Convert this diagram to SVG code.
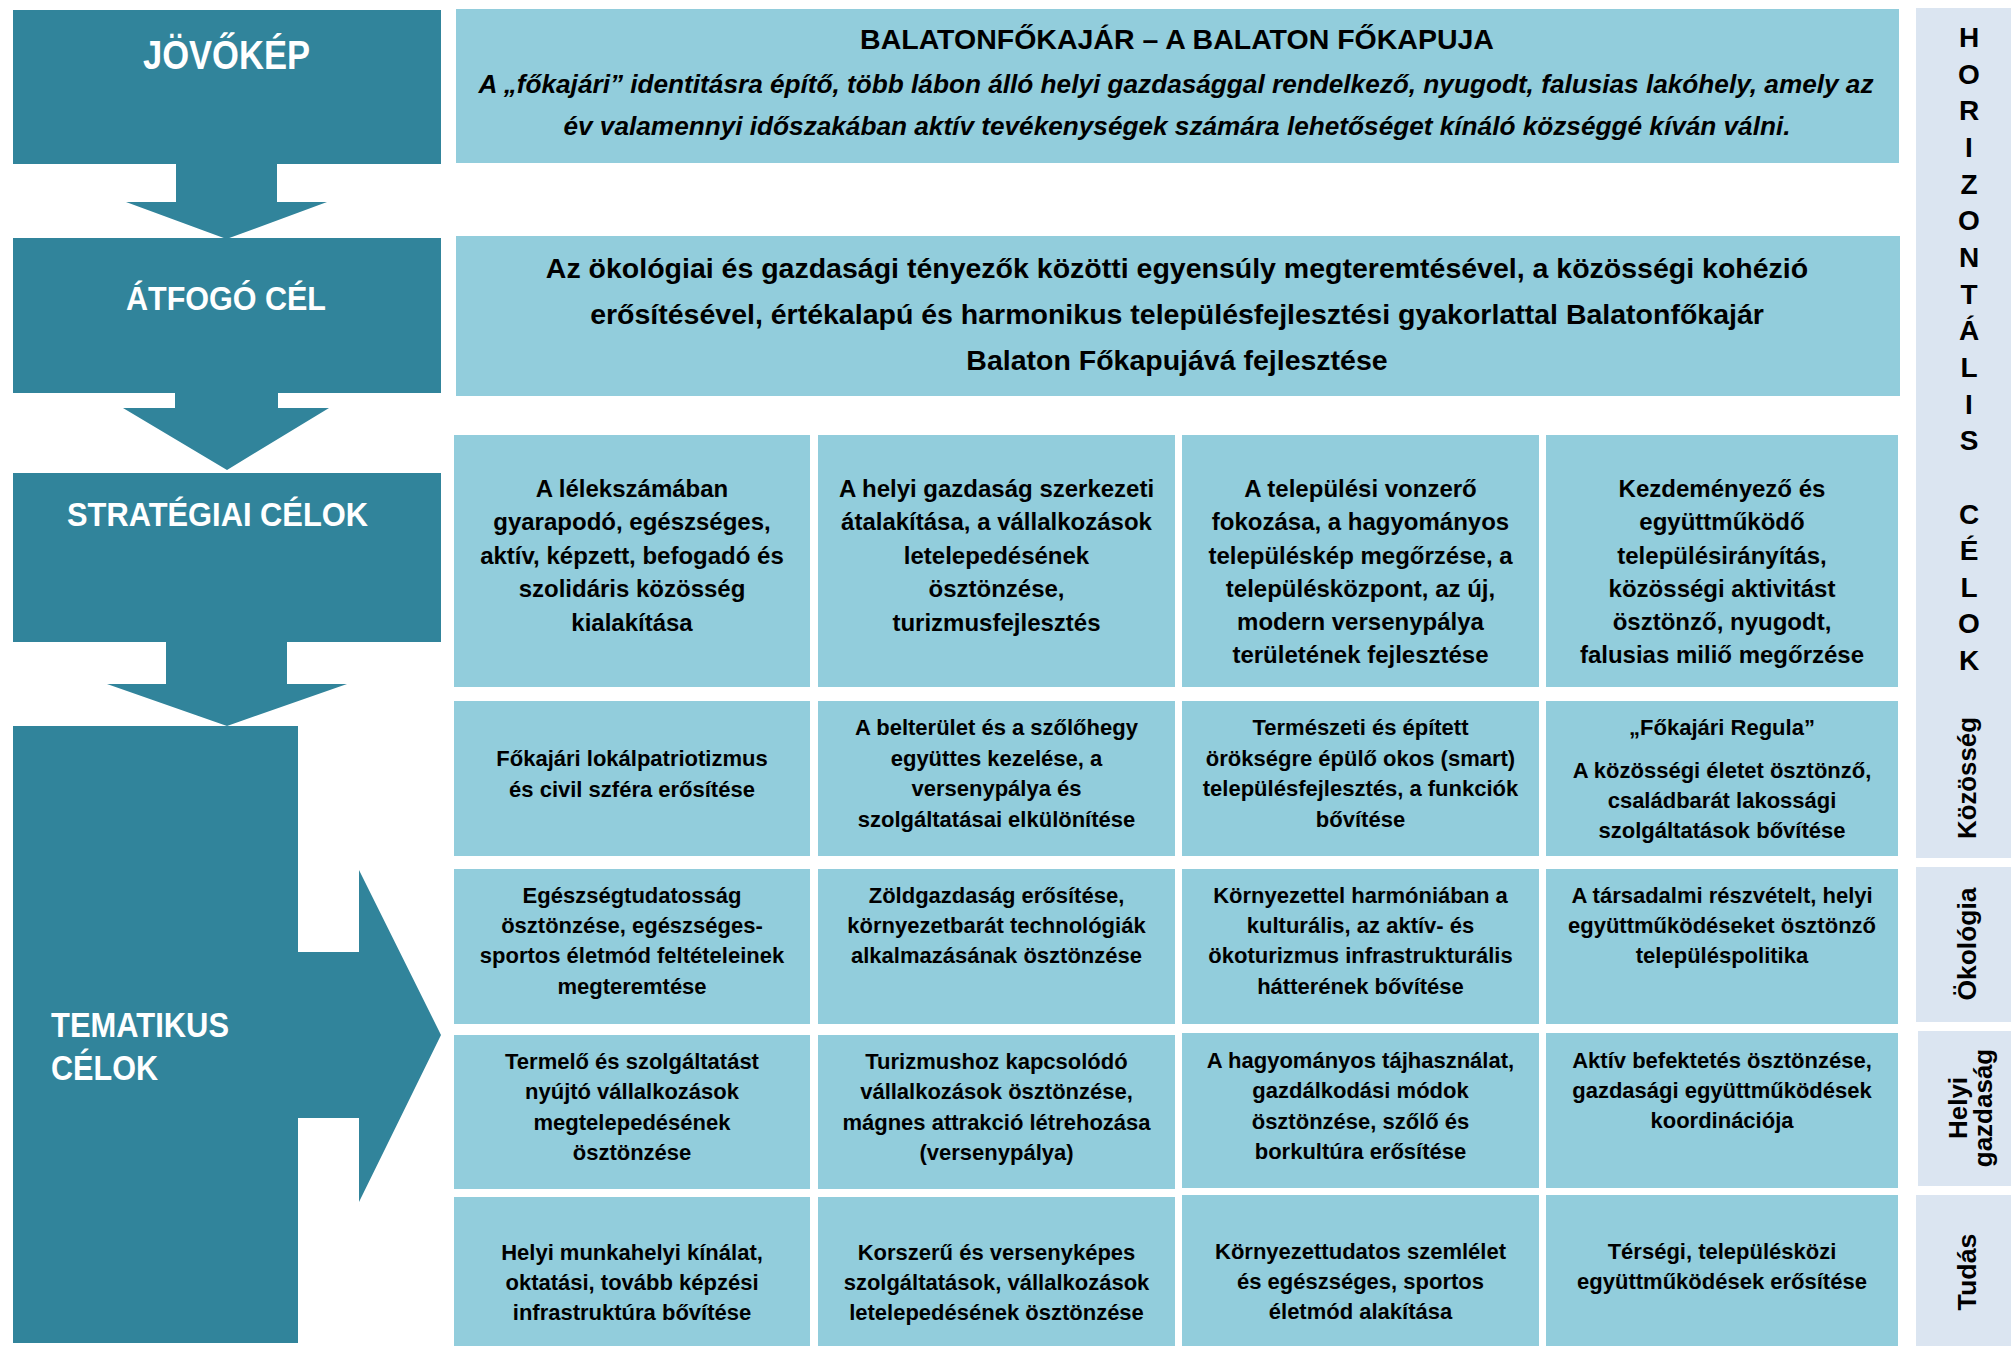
<svg xmlns="http://www.w3.org/2000/svg" width="2011" height="1346" viewBox="0 0 2011 1346">
<defs>
<style>
.dark{fill:#31849B}
.light{fill:#92CDDC}
.bar{fill:#DBE5F1}
.lbl{font-family:"Liberation Sans",Arial,sans-serif;font-weight:bold;fill:#FFFFFF}
.hd{font-family:"Liberation Sans",Arial,sans-serif;font-weight:bold;fill:#000;text-anchor:middle;font-size:28.5px}
.it{font-family:"Liberation Sans",Arial,sans-serif;font-weight:bold;font-style:italic;fill:#000;text-anchor:middle;font-size:26.2px}
.t24{font-family:"Liberation Sans",Arial,sans-serif;font-weight:bold;fill:#000;text-anchor:middle;font-size:24px}
.t22{font-family:"Liberation Sans",Arial,sans-serif;font-weight:bold;fill:#000;text-anchor:middle;font-size:22px}
.vl{font-family:"Liberation Sans",Arial,sans-serif;font-weight:bold;fill:#000;text-anchor:middle;font-size:28px}
.rl{font-family:"Liberation Sans",Arial,sans-serif;font-weight:bold;fill:#000;text-anchor:middle;font-size:26px}
</style>
</defs>
<rect width="2011" height="1346" fill="#FFFFFF"/>

<g id="connectors">
<polygon class="dark" points="176,163 277,163 277,202 327,202 226.5,239 126,202 176,202"/>
<polygon class="dark" points="175,392 278,392 278,408 329,408 227,470 123,408 175,408"/>
<polygon class="dark" points="166,641 287,641 287,684 347,684 227,726 107,684 166,684"/>
<polygon class="dark" points="297,952 359,952 359,870 441,1035 359,1202 359,1118 297,1118"/>
</g>

<g id="jovokep">
<rect class="dark" x="13" y="10" width="428" height="154"/>
<text class="lbl" x="226.5" y="69" font-size="41" text-anchor="middle" textLength="167" lengthAdjust="spacingAndGlyphs">JÖVŐKÉP</text>
</g>
<g id="atfogo-cel">
<rect class="dark" x="13" y="238" width="428" height="155"/>
<text class="lbl" x="226" y="310" font-size="33.5" text-anchor="middle" textLength="200" lengthAdjust="spacingAndGlyphs">ÁTFOGÓ CÉL</text>
</g>
<g id="strategiai-celok">
<rect class="dark" x="13" y="473" width="428" height="169"/>
<text class="lbl" x="67" y="526" font-size="33.5" textLength="301" lengthAdjust="spacingAndGlyphs">STRATÉGIAI CÉLOK</text>
</g>
<g id="tematikus-celok">
<rect class="dark" x="13" y="726" width="285" height="617"/>
<text class="lbl" x="51" y="1037" font-size="35" textLength="178" lengthAdjust="spacingAndGlyphs">TEMATIKUS</text>
<text class="lbl" x="51" y="1080" font-size="35" textLength="107" lengthAdjust="spacingAndGlyphs">CÉLOK</text>
</g>

<g id="jovokep-text">
<rect class="light" x="456" y="9" width="1443" height="154"/>
<text class="hd" x="1177" y="49">BALATONFŐKAJÁR – A BALATON FŐKAPUJA</text>
<text class="it" x="1176" y="93">A „főkajári” identitásra építő, több lábon álló helyi gazdasággal rendelkező, nyugodt, falusias lakóhely, amely az</text>
<text class="it" x="1177" y="135">év valamennyi időszakában aktív tevékenységek számára lehetőséget kínáló községgé kíván válni.</text>
</g>
<g id="atfogo-text">
<rect class="light" x="456" y="236" width="1444" height="160"/>
<text class="hd" x="1177" y="278">Az ökológiai és gazdasági tényezők közötti egyensúly megteremtésével, a közösségi kohézió</text>
<text class="hd" x="1177" y="324">erősítésével, értékalapú és harmonikus településfejlesztési gyakorlattal Balatonfőkajár</text>
<text class="hd" x="1177" y="370">Balaton Főkapujává fejlesztése</text>
</g>

<g id="s1">
<rect class="light" x="454" y="435" width="356" height="252"/>
<text class="t24"><tspan x="632" y="497">A lélekszámában</tspan><tspan x="632" y="530">gyarapodó, egészséges,</tspan><tspan x="632" y="564">aktív, képzett, befogadó és</tspan><tspan x="632" y="597">szolidáris közösség</tspan><tspan x="632" y="631">kialakítása</tspan></text>
</g>
<g id="s2">
<rect class="light" x="818" y="435" width="357" height="252"/>
<text class="t24"><tspan x="996.5" y="497">A helyi gazdaság szerkezeti</tspan><tspan x="996.5" y="530">átalakítása, a vállalkozások</tspan><tspan x="996.5" y="564">letelepedésének</tspan><tspan x="996.5" y="597">ösztönzése,</tspan><tspan x="996.5" y="631">turizmusfejlesztés</tspan></text>
</g>
<g id="s3">
<rect class="light" x="1182" y="435" width="357" height="252"/>
<text class="t24"><tspan x="1360.5" y="497">A települési vonzerő</tspan><tspan x="1360.5" y="530">fokozása, a hagyományos</tspan><tspan x="1360.5" y="564">településkép megőrzése, a</tspan><tspan x="1360.5" y="597">településközpont, az új,</tspan><tspan x="1360.5" y="630">modern versenypálya</tspan><tspan x="1360.5" y="663">területének fejlesztése</tspan></text>
</g>
<g id="s4">
<rect class="light" x="1546" y="435" width="352" height="252"/>
<text class="t24"><tspan x="1722" y="497">Kezdeményező és</tspan><tspan x="1722" y="530">együttműködő</tspan><tspan x="1722" y="564">településirányítás,</tspan><tspan x="1722" y="597">közösségi aktivitást</tspan><tspan x="1722" y="630">ösztönző, nyugodt,</tspan><tspan x="1722" y="663">falusias miliő megőrzése</tspan></text>
</g>

<g id="k1">
<rect class="light" x="454" y="701" width="356" height="155"/>
<text class="t22"><tspan x="632" y="766">Főkajári lokálpatriotizmus</tspan><tspan x="632" y="797">és civil szféra erősítése</tspan></text>
</g>
<g id="k2">
<rect class="light" x="818" y="701" width="357" height="155"/>
<text class="t22"><tspan x="996.5" y="735">A belterület és a szőlőhegy</tspan><tspan x="996.5" y="766">együttes kezelése, a</tspan><tspan x="996.5" y="796">versenypálya és</tspan><tspan x="996.5" y="827">szolgáltatásai elkülönítése</tspan></text>
</g>
<g id="k3">
<rect class="light" x="1182" y="701" width="357" height="155"/>
<text class="t22"><tspan x="1360.5" y="735">Természeti és épített</tspan><tspan x="1360.5" y="766">örökségre épülő okos (smart)</tspan><tspan x="1360.5" y="796">településfejlesztés, a funkciók</tspan><tspan x="1360.5" y="827">bővítése</tspan></text>
</g>
<g id="k4">
<rect class="light" x="1546" y="701" width="352" height="155"/>
<text class="t22"><tspan x="1722" y="735">„Főkajári Regula”</tspan><tspan x="1722" y="778">A közösségi életet ösztönző,</tspan><tspan x="1722" y="808">családbarát lakossági</tspan><tspan x="1722" y="838">szolgáltatások bővítése</tspan></text>
</g>

<g id="o1">
<rect class="light" x="454" y="869" width="356" height="155"/>
<text class="t22"><tspan x="632" y="903">Egészségtudatosság</tspan><tspan x="632" y="933">ösztönzése, egészséges-</tspan><tspan x="632" y="963">sportos életmód feltételeinek</tspan><tspan x="632" y="994">megteremtése</tspan></text>
</g>
<g id="o2">
<rect class="light" x="818" y="869" width="357" height="155"/>
<text class="t22"><tspan x="996.5" y="903">Zöldgazdaság erősítése,</tspan><tspan x="996.5" y="933">környezetbarát technológiák</tspan><tspan x="996.5" y="963">alkalmazásának ösztönzése</tspan></text>
</g>
<g id="o3">
<rect class="light" x="1182" y="869" width="357" height="155"/>
<text class="t22"><tspan x="1360.5" y="903">Környezettel harmóniában a</tspan><tspan x="1360.5" y="933">kulturális, az aktív- és</tspan><tspan x="1360.5" y="963">ökoturizmus infrastrukturális</tspan><tspan x="1360.5" y="994">hátterének bővítése</tspan></text>
</g>
<g id="o4">
<rect class="light" x="1546" y="869" width="352" height="155"/>
<text class="t22"><tspan x="1722" y="903">A társadalmi részvételt, helyi</tspan><tspan x="1722" y="933">együttműködéseket ösztönző</tspan><tspan x="1722" y="963">településpolitika</tspan></text>
</g>

<g id="g1">
<rect class="light" x="454" y="1035" width="356" height="154"/>
<text class="t22"><tspan x="632" y="1069">Termelő és szolgáltatást</tspan><tspan x="632" y="1099">nyújtó vállalkozások</tspan><tspan x="632" y="1130">megtelepedésének</tspan><tspan x="632" y="1160">ösztönzése</tspan></text>
</g>
<g id="g2">
<rect class="light" x="818" y="1035" width="357" height="154"/>
<text class="t22"><tspan x="996.5" y="1069">Turizmushoz kapcsolódó</tspan><tspan x="996.5" y="1099">vállalkozások ösztönzése,</tspan><tspan x="996.5" y="1130">mágnes attrakció létrehozása</tspan><tspan x="996.5" y="1160">(versenypálya)</tspan></text>
</g>
<g id="g3">
<rect class="light" x="1182" y="1033" width="357" height="155"/>
<text class="t22"><tspan x="1360.5" y="1068">A hagyományos tájhasználat,</tspan><tspan x="1360.5" y="1098">gazdálkodási módok</tspan><tspan x="1360.5" y="1129">ösztönzése, szőlő és</tspan><tspan x="1360.5" y="1159">borkultúra erősítése</tspan></text>
</g>
<g id="g4">
<rect class="light" x="1546" y="1033" width="352" height="155"/>
<text class="t22"><tspan x="1722" y="1068">Aktív befektetés ösztönzése,</tspan><tspan x="1722" y="1098">gazdasági együttműködések</tspan><tspan x="1722" y="1128">koordinációja</tspan></text>
</g>

<g id="t1">
<rect class="light" x="454" y="1197" width="356" height="149"/>
<text class="t22"><tspan x="632" y="1260">Helyi munkahelyi kínálat,</tspan><tspan x="632" y="1290">oktatási, tovább képzési</tspan><tspan x="632" y="1320">infrastruktúra bővítése</tspan></text>
</g>
<g id="t2">
<rect class="light" x="818" y="1197" width="357" height="149"/>
<text class="t22"><tspan x="996.5" y="1260">Korszerű és versenyképes</tspan><tspan x="996.5" y="1290">szolgáltatások, vállalkozások</tspan><tspan x="996.5" y="1320">letelepedésének ösztönzése</tspan></text>
</g>
<g id="t3">
<rect class="light" x="1182" y="1195" width="357" height="151"/>
<text class="t22"><tspan x="1360.5" y="1259">Környezettudatos szemlélet</tspan><tspan x="1360.5" y="1289">és egészséges, sportos</tspan><tspan x="1360.5" y="1319">életmód alakítása</tspan></text>
</g>
<g id="t4">
<rect class="light" x="1546" y="1195" width="352" height="151"/>
<text class="t22"><tspan x="1722" y="1259">Térségi, településközi</tspan><tspan x="1722" y="1289">együttműködések erősítése</tspan></text>
</g>

<g id="horizontalis">
<rect class="bar" x="1916" y="8" width="95" height="850"/>
<text class="vl"><tspan x="1969" y="47">H</tspan><tspan x="1969" y="83.7">O</tspan><tspan x="1969" y="120.3">R</tspan><tspan x="1969" y="157">I</tspan><tspan x="1969" y="193.6">Z</tspan><tspan x="1969" y="230.3">O</tspan><tspan x="1969" y="267">N</tspan><tspan x="1969" y="303.5">T</tspan><tspan x="1969" y="340.2">Á</tspan><tspan x="1969" y="376.8">L</tspan><tspan x="1969" y="413.5">I</tspan><tspan x="1969" y="450.1">S</tspan><tspan x="1969" y="523.5">C</tspan><tspan x="1969" y="560">É</tspan><tspan x="1969" y="596.6">L</tspan><tspan x="1969" y="633.2">O</tspan><tspan x="1969" y="669.8">K</tspan></text>
<text class="rl" transform="translate(1976,778) rotate(-90)" textLength="122" lengthAdjust="spacingAndGlyphs">Közösség</text>
</g>
<g id="okologia">
<rect class="bar" x="1916" y="867" width="95" height="155"/>
<text class="rl" transform="translate(1976,944) rotate(-90)" textLength="113" lengthAdjust="spacingAndGlyphs">Ökológia</text>
</g>
<g id="helyi-gazdasag">
<rect class="bar" x="1918" y="1031" width="93" height="155"/>
<text class="rl" transform="translate(1967,1108) rotate(-90)">Helyi</text>
<text class="rl" transform="translate(1992,1108) rotate(-90)">gazdaság</text>
</g>
<g id="tudas">
<rect class="bar" x="1916" y="1195" width="95" height="151"/>
<text class="rl" transform="translate(1976,1272) rotate(-90)" textLength="77" lengthAdjust="spacingAndGlyphs">Tudás</text>
</g>
</svg>
